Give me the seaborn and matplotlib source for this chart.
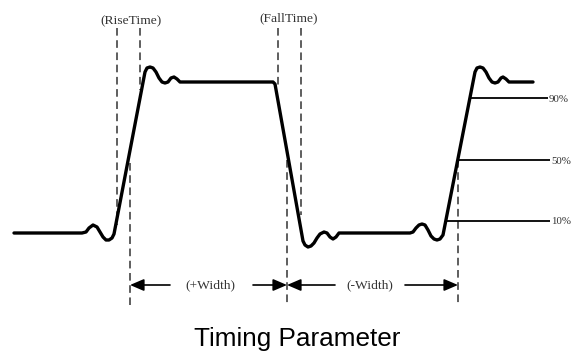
import matplotlib
matplotlib.use("Agg")
import matplotlib.pyplot as plt
import seaborn as sns
import pandas as pd

# ---- data (diagram coordinates, y grows downward) ----
wave_x = [14, 82, 86, 89, 93, 97, 100, 103, 106, 109, 112, 114,
          145, 147, 150, 153, 156, 159, 162, 165, 168, 171, 174, 177, 180, 273, 275,
          303, 305, 308, 311, 314, 317, 320, 324, 327, 330, 333, 336, 339, 410,
          413, 416, 419, 422, 425, 428, 431, 434, 437, 440, 443,
          475, 477, 480, 483, 486, 489, 492, 495, 498, 501, 503, 506, 509, 533]
wave_y = [233, 233, 232, 228, 225, 227, 232, 237, 240, 240, 238, 234,
          72, 68, 67, 68, 72, 78, 82, 83, 82, 78, 77, 79, 82, 82, 84,
          241, 245, 247, 246, 243, 238, 234, 232, 233, 237, 239, 237, 233, 233,
          232, 228, 225, 224, 225, 230, 236, 239, 240, 239, 235,
          72, 68, 67, 68, 72, 78, 82, 83, 82, 78, 77, 79, 82, 82]

level_labels = ["90%", "50%", "10%"]
level_y = [98, 160, 221]
level_x0 = [470, 458, 447]
level_x1 = [548, 550, 550]

# dashed markers: x, y_top, y_bottom
dash_x = [117, 140, 130, 278, 301, 287, 458]
dash_top = [28, 28, 163, 28, 28, 160, 160]
dash_bot = [225, 90, 305, 88, 215, 305, 305]

top_labels = ["(RiseTime)", "(FallTime)"]
top_label_x = [131, 289]
top_label_y = [21, 18]

width_labels = ["(+Width)", "(-Width)"]
width_left = [130, 287]
width_right = [287, 458]
width_text_x = [210, 370]
width_gap = [(170, 253), (335, 405)]
arrow_y = 285

title = "Timing Parameter"

# ---- figure ----
sns.set_theme(style="white")
plt.rcParams['font.family'] = ['Liberation Serif', 'DejaVu Sans']
fig = plt.figure(figsize=(5.73, 3.52), dpi=100)
ax = fig.add_axes([0, 0, 1, 1])

# dashed verticals
ax.vlines(dash_x, dash_top, dash_bot, colors="#333333", linewidth=1.1,
          linestyles=(0, (5, 3)), zorder=1)

# level lines
ax.hlines(level_y, level_x0, level_x1, colors="black", linewidth=1.3, zorder=2)
for lab, y, x1 in zip(level_labels, level_y, level_x1):
    ax.text(x1 + 1, y + 1, lab, fontsize=7.8, color="#333333",
            ha="left", va="center", family=["Liberation Serif"])

# waveform
df = pd.DataFrame({"x": wave_x, "y": wave_y})
sns.lineplot(data=df, x="x", y="y", sort=False, estimator=None, ax=ax,
             color="black", linewidth=2.4, zorder=3)
for ln in ax.lines:
    ln.set_solid_joinstyle("round")
    ln.set_solid_capstyle("round")
ax.set_xlim(0, 573)
ax.set_ylim(352, 0)
ax.axis("off")

# top labels
for lab, x, y in zip(top_labels, top_label_x, top_label_y):
    ax.text(x, y, lab, fontsize=9.7, color="#333333", ha="center", va="center",
            family=["Liberation Serif"])

# width arrows
ap = dict(arrowstyle="-|>,head_length=0.7,head_width=0.3", color="black",
          lw=1.2, shrinkA=0, shrinkB=0)
for lab, xl, xr, xt, (g0, g1) in zip(width_labels, width_left, width_right,
                                     width_text_x, width_gap):
    ax.annotate("", xy=(xl, arrow_y), xytext=(g0, arrow_y), arrowprops=ap)
    ax.annotate("", xy=(xr, arrow_y), xytext=(g1, arrow_y), arrowprops=ap)
    ax.text(xt, arrow_y, lab, fontsize=9.7, color="#333333", ha="center",
            va="center", family=["Liberation Serif"])

ax.text(297, 346, title, fontsize=18.8, color="black", ha="center",
        va="baseline", family=["Liberation Sans"])

fig.savefig("out.png", dpi=100)
